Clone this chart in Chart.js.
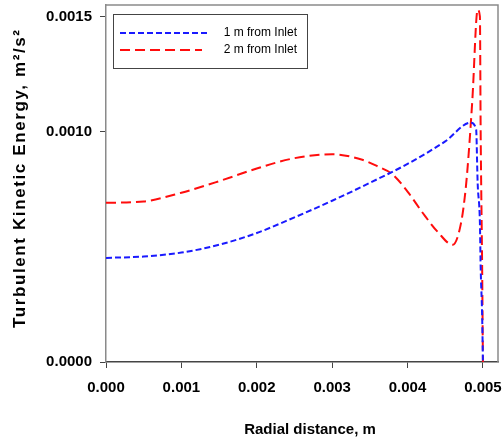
<!DOCTYPE html>
<html>
<head>
<meta charset="utf-8">
<script src="https://cdn.jsdelivr.net/npm/chart.js@4"></script>
<style>
    html, body { margin: 0; padding: 0; background: #fff; }
    #wrap { width: 504px; height: 442px; }
</style>
</head>
<body>
<div id="wrap"><canvas id="tkeChart" width="504" height="442"></canvas></div>
<script>
// --- DATA ---
const xTicks = [0, 0.001, 0.002, 0.003, 0.004, 0.005];
const yTicks = [0, 0.001, 0.0015];

// 1 m from inlet
const radial1 = [0, 0.0005, 0.001, 0.0015, 0.002, 0.0025, 0.003, 0.0035, 0.004, 0.0045, 0.00484, 0.00491, 0.00493, 0.00496, 0.00497, 0.00499, 0.005];
const tke1 = [0.000452, 0.000458, 0.000475, 0.000509, 0.000560, 0.000628, 0.000700, 0.000778, 0.000860, 0.000958, 0.001039, 0.001009, 0.000778, 0.000604, 0.000413, 0.000196, 0];

// 2 m from inlet
const radial2 = [0, 0.0005, 0.001, 0.0015, 0.002, 0.0025, 0.003, 0.0034, 0.0036, 0.0038, 0.004, 0.0042, 0.0044, 0.0046, 0.00471, 0.00477, 0.00481, 0.00486, 0.00493, 0.00496, 0.00497, 0.00499, 0.005];
const tke2 = [0.000691, 0.000697, 0.000735, 0.000785, 0.000840, 0.000885, 0.000902, 0.000878, 0.000850, 0.000815, 0.000740, 0.000648, 0.000565, 0.000509, 0.000604, 0.000748, 0.000900, 0.001140, 0.001530, 0.001500, 0.001000, 0.000400, 0];

const seriesLabels = ['1 m from Inlet', '2 m from Inlet'];
const yTitle = 'Turbulent Kinetic Energy, m\u00B2/s\u00B2';
const xTitle = 'Radial distance, m';

// --- STYLE ---
const BLUE = '#1a1aff';
const RED = '#ff0d0d';
const BLUE_DASH = [6, 3];
const RED_DASH = [10, 5];

const toPoints = (xs, ys) => xs.map((x, i) => ({ x, y: ys[i] }));

// frame, legend box and axis titles
const decorPlugin = {
    id: 'decor',
    afterDraw(chart) {
        const { ctx, chartArea: a } = chart;
        ctx.save();
        // top & right frame
        ctx.strokeStyle = '#8a8a8a';
        ctx.lineWidth = 1.5;
        ctx.beginPath();
        ctx.moveTo(a.left, a.top);
        ctx.lineTo(a.right, a.top);
        ctx.lineTo(a.right, a.bottom);
        ctx.stroke();

        // legend box
        ctx.fillStyle = '#fff';
        ctx.fillRect(113, 14, 194, 54);
        ctx.strokeStyle = '#444';
        ctx.lineWidth = 1;
        ctx.strokeRect(113.5, 14.5, 194, 54);

        ctx.lineWidth = 2;
        ctx.setLineDash(BLUE_DASH);
        ctx.strokeStyle = BLUE;
        ctx.beginPath(); ctx.moveTo(120, 33); ctx.lineTo(210, 33); ctx.stroke();
        ctx.setLineDash(RED_DASH);
        ctx.strokeStyle = RED;
        ctx.beginPath(); ctx.moveTo(120, 50); ctx.lineTo(202, 50); ctx.stroke();
        ctx.setLineDash([]);

        ctx.fillStyle = '#000';
        ctx.font = '12px "Liberation Sans", Arial, sans-serif';
        ctx.textAlign = 'right';
        ctx.textBaseline = 'middle';
        ctx.fillText(seriesLabels[0], 297, 33);
        ctx.fillText(seriesLabels[1], 297, 50);

        // x title
        ctx.font = 'bold 15px "Liberation Sans", Arial, sans-serif';
        ctx.textAlign = 'center';
        ctx.fillText(xTitle, 310, 430);

        // y title (rotated, stretched to reference length)
        ctx.translate(20, 179);
        ctx.rotate(-Math.PI / 2);
        ctx.font = 'bold 17px "Liberation Sans", Arial, sans-serif';
        const w = ctx.measureText(yTitle).width;
        const spacing = Math.max(0, (298 - w) / (yTitle.length - 1));
        ctx.letterSpacing = spacing + 'px';
        ctx.fillText(yTitle, spacing / 2, 0);
        ctx.restore();
    }
};

const tickFont = { family: '"Liberation Sans", Arial, sans-serif', size: 15, weight: 'bold' };

new Chart(document.getElementById('tkeChart').getContext('2d'), {
    type: 'line',
    data: {
        datasets: [
            { label: seriesLabels[0], data: toPoints(radial1, tke1), borderColor: BLUE, borderDash: BLUE_DASH, borderWidth: 2, pointRadius: 0, cubicInterpolationMode: 'monotone', fill: false },
            { label: seriesLabels[1], data: toPoints(radial2, tke2), borderColor: RED, borderDash: RED_DASH, borderWidth: 2, pointRadius: 0, cubicInterpolationMode: 'monotone', fill: false }
        ]
    },
    options: {
        responsive: false,
        animation: false,
        layout: { padding: { top: 5, right: 6, left: 0, bottom: 0 } },
        plugins: { legend: { display: false }, tooltip: { enabled: false } },
        scales: {
            x: {
                type: 'linear', min: 0, max: 0.0052,
                afterBuildTicks: scale => { scale.ticks = xTicks.map(v => ({ value: v })); },
                afterFit: scale => { scale.height = 80; scale.paddingLeft = 0; scale.paddingRight = 0; },
                ticks: { callback: v => v.toFixed(3), color: '#000', font: tickFont, padding: 11, maxRotation: 0, autoSkip: false },
                grid: { drawOnChartArea: false, drawTicks: true, tickLength: 6, color: '#444' },
                border: { color: '#444', width: 1.5 }
            },
            y: {
                type: 'linear', min: 0, max: 0.00155,
                afterBuildTicks: scale => { scale.ticks = yTicks.map(v => ({ value: v })); },
                afterFit: scale => { scale.width = 106; scale.paddingTop = 0; scale.paddingBottom = 0; },
                ticks: { callback: v => v.toFixed(4), color: '#000', font: tickFont, padding: 8, autoSkip: false },
                grid: { drawOnChartArea: false, drawTicks: true, tickLength: 6, color: '#444' },
                border: { color: '#8a8a8a', width: 1.5 }
            }
        }
    },
    plugins: [decorPlugin]
});
</script>
</body>
</html>
